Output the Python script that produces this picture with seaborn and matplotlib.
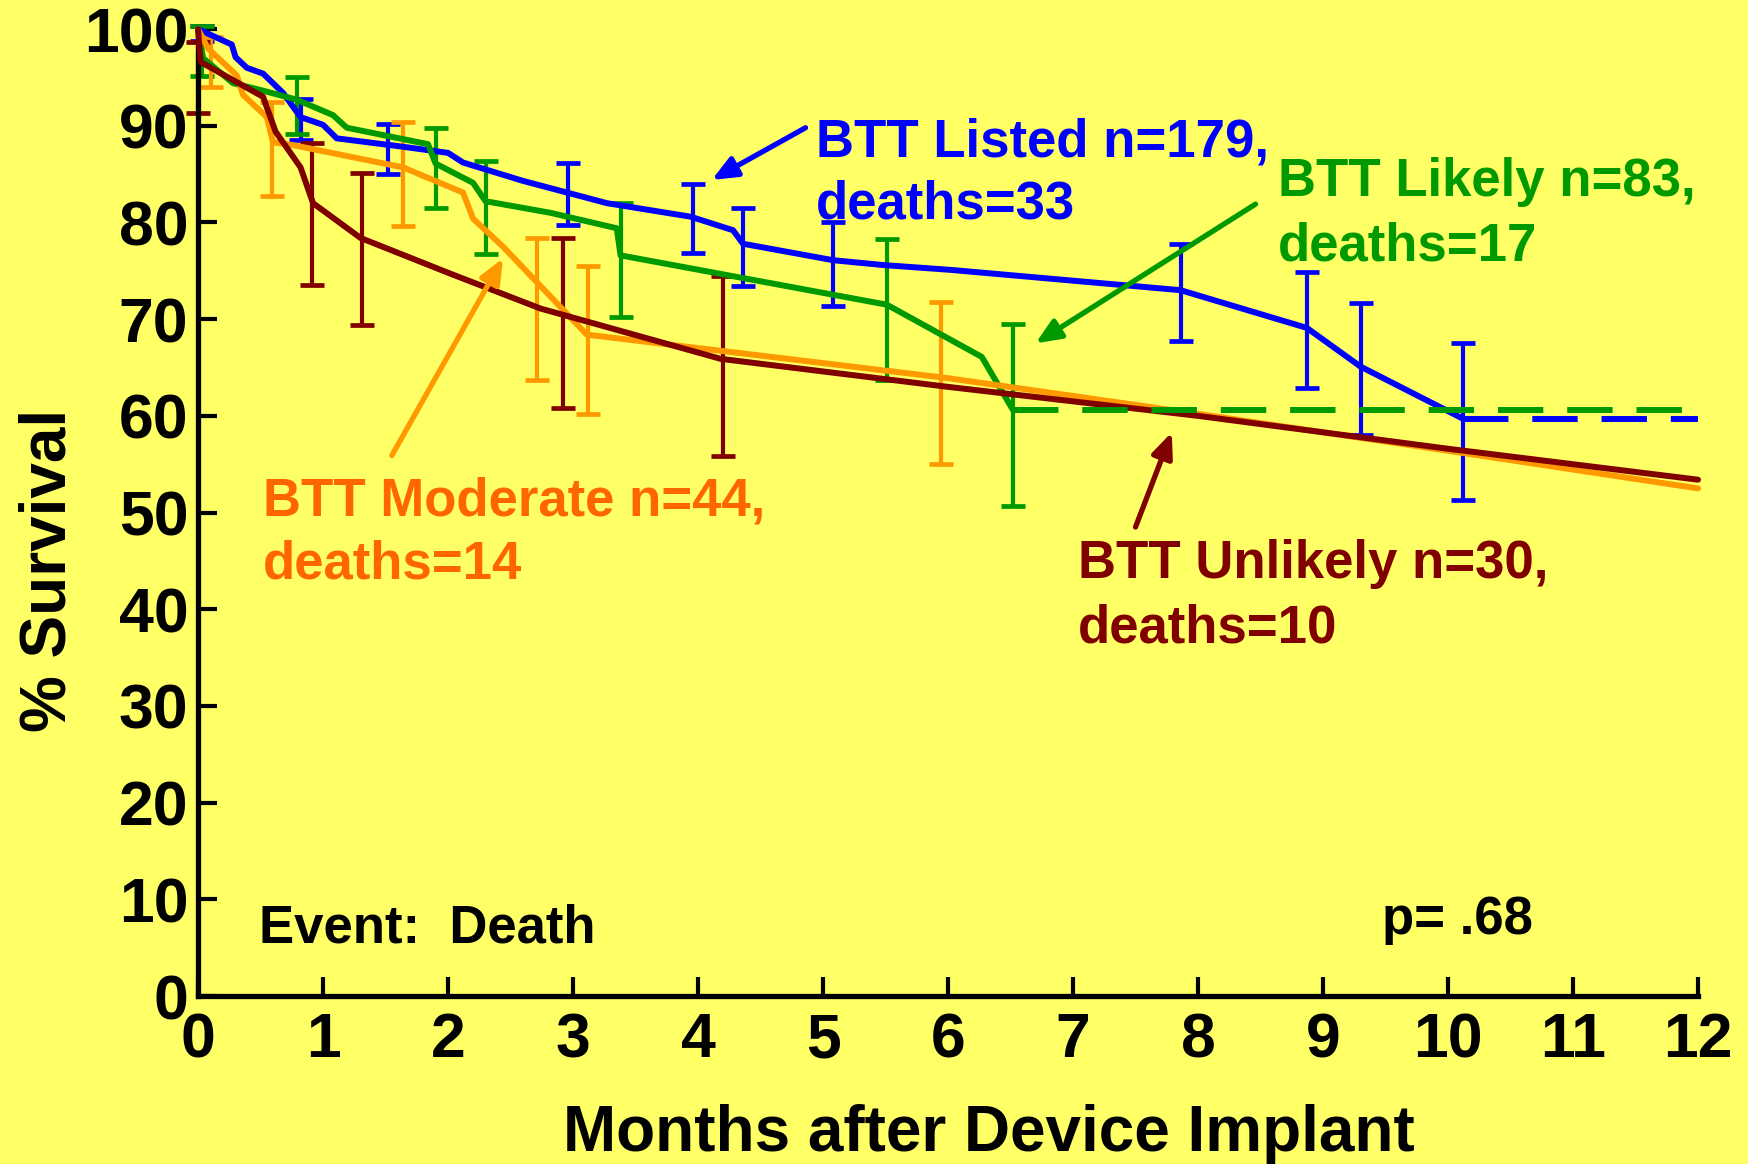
import numpy as np
import pandas as pd
import seaborn as sns
import matplotlib
matplotlib.use("Agg")
import matplotlib.pyplot as plt

# survival curves (months, % survival)
blue_x = [0, 0.27, 0.30, 0.39, 0.52, 0.68, 0.82, 1.0, 1.11, 1.6, 2.0, 2.12, 2.6, 2.95, 3.27, 3.94, 4.28, 4.36, 5.08, 5.48, 6.02, 7.86, 8.87, 9.30, 10.12]
blue_y = [100, 98.4, 97.1, 96.0, 95.4, 93.4, 90.9, 90.1, 88.7, 87.9, 87.2, 86.2, 84.3, 83.1, 82.0, 80.6, 79.2, 77.8, 76.1, 75.6, 75.1, 73.0, 69.1, 65.1, 59.7]
blue_tail_x = [10.12, 12]
blue_tail_y = [59.7, 59.7]

green_x = [0, 0.04, 0.28, 0.5, 0.79, 1.08, 1.19, 1.84, 1.9, 2.2, 2.3, 2.82, 3.35, 3.38, 5.51, 6.27, 6.52]
green_y = [100, 97.0, 94.4, 93.7, 92.7, 91.1, 89.8, 88.1, 86.1, 84.1, 82.2, 81.0, 79.4, 76.6, 71.5, 66.1, 60.6]
green_tail_x = [6.52, 12]
green_tail_y = [60.6, 60.6]

orange_x = [0, 0.08, 0.31, 0.36, 0.55, 0.6, 0.76, 1.64, 2.12, 2.2, 2.44, 3.11, 6.0, 7.9, 10.1, 12]
orange_y = [100, 98.0, 95.2, 93.2, 90.9, 88.3, 88.0, 85.7, 83.1, 80.4, 77.5, 68.4, 63.9, 60.4, 56.2, 52.5]

darkred_x = [0, 0.02, 0.52, 0.62, 0.82, 0.92, 1.3, 2.02, 2.74, 4.18, 6.0, 8.0, 10.0, 12]
darkred_y = [100, 96.6, 93.0, 89.4, 85.7, 82.0, 78.4, 74.7, 71.1, 65.9, 63.0, 60.0, 56.6, 53.4]

# confidence bars (month, low, high)
blue_err_x = [0.03, 0.82, 1.52, 2.96, 3.96, 4.36, 5.08, 7.86, 8.87, 9.30, 10.12]
blue_err_lo = [98.8, 88.5, 85.0, 79.7, 76.8, 73.4, 71.4, 67.7, 62.9, 58.0, 51.3]
blue_err_hi = [100.3, 92.8, 90.2, 86.2, 84.0, 81.5, 80.1, 77.8, 74.9, 71.7, 67.5]

green_err_x = [0.03, 0.79, 1.9, 2.3, 3.38, 5.51, 6.52]
green_err_lo = [95.1, 89.1, 81.5, 76.7, 70.2, 63.7, 50.7]
green_err_hi = [100.3, 95.0, 89.8, 86.4, 82.0, 78.3, 69.5]

orange_err_x = [0.1, 0.59, 1.64, 2.71, 3.12, 5.94]
orange_err_lo = [94.0, 82.7, 79.6, 63.7, 60.2, 55.0]
orange_err_hi = [99.2, 92.5, 90.4, 78.4, 75.5, 71.8]

darkred_err_x = [0.0, 0.91, 1.31, 2.92, 4.2]
darkred_err_lo = [91.3, 73.5, 69.4, 60.8, 55.8]
darkred_err_hi = [98.7, 88.2, 85.1, 78.4, 74.5]

x_ticks = list(range(0, 13))
y_ticks = list(range(0, 101, 10))

BG = "#FFFF66"
BLUE = "#0000FF"
GREEN = "#009900"
ORANGE = "#FF9900"
ORANGE_TXT = "#FF6600"
DARKRED = "#800000"

sns.set_style("ticks")
plt.rcParams["font.family"] = ["Liberation Sans", "DejaVu Sans"]
plt.rcParams["font.weight"] = "bold"
plt.rcParams["text.color"] = "black"
plt.rcParams["axes.labelcolor"] = "black"

fig = plt.figure(figsize=(17.48, 11.64), dpi=100, facecolor=BG)
ax = fig.add_axes([0.1133, 0.1443, 0.8581, 0.8307], facecolor=BG)

LW = 4.3

def err(xs, lo, hi, color):
    lo = np.array(lo)
    hi = np.array(hi)
    ax.errorbar(xs, (lo + hi) / 2, yerr=(hi - lo) / 2, fmt="none", ecolor=color,
                elinewidth=3.0, capsize=8.3, capthick=3.4, clip_on=False, zorder=2)

err(blue_err_x, blue_err_lo, blue_err_hi, BLUE)
err(green_err_x, green_err_lo, green_err_hi, GREEN)
err(orange_err_x, orange_err_lo, orange_err_hi, ORANGE)
err(darkred_err_x, darkred_err_lo, darkred_err_hi, DARKRED)

curves = [
    (blue_x, blue_y, BLUE),
    (green_x, green_y, GREEN),
    (orange_x, orange_y, ORANGE),
    (darkred_x, darkred_y, DARKRED),
]
for xs, ys, c in curves:
    df = pd.DataFrame({"month": xs, "surv": ys})
    sns.lineplot(data=df, x="month", y="surv", color=c, estimator=None,
                 sort=False, ax=ax)
    ln = ax.lines[-1]
    ln.set_linewidth(LW)
    ln.set_clip_on(False)
    ln.set_zorder(3)

for xs, ys, c in [(green_tail_x, green_tail_y, GREEN), (blue_tail_x, blue_tail_y, BLUE)]:
    df = pd.DataFrame({"month": xs, "surv": ys})
    sns.lineplot(data=df, x="month", y="surv", color=c, estimator=None,
                 sort=False, ax=ax)
    ln = ax.lines[-1]
    ln.set_linewidth(LW)
    ln.set_dashes((7.6, 4.0))
    ln.set_zorder(3)

ax.set_xlim(0, 12)
ax.set_ylim(0, 100)
ax.set_xticks(x_ticks)
ax.set_yticks(y_ticks)
for s in ["top", "right"]:
    ax.spines[s].set_visible(False)
for s in ["left", "bottom"]:
    ax.spines[s].set_linewidth(3.8)
    ax.spines[s].set_color("black")
ax.tick_params(axis="both", direction="in", length=14, width=3, colors="black",
               labelsize=45)
ax.tick_params(axis="x", pad=11)
ax.tick_params(axis="y", pad=7)
for lab in ax.get_xticklabels() + ax.get_yticklabels():
    lab.set_fontweight("bold")

ax.set_xlabel("Months after Device Implant", fontsize=46, fontweight="bold", color="black")
ax.set_ylabel("% Survival", fontsize=46, fontweight="bold", color="black")
ax.xaxis.set_label_coords(0.527, -0.112)
ax.yaxis.set_label_coords(-0.080, 0.44)

TS = 38
def label(x, y, txt, color):
    ax.text(x, y, txt, color=color, fontsize=TS, fontweight="bold",
            ha="left", va="baseline")

label(4.94, 86.8, "BTT Listed n=179,", BLUE)
label(4.94, 80.4, "deaths=33", BLUE)
label(8.64, 82.7, "BTT Likely n=83,", GREEN)
label(8.64, 76.1, "deaths=17", GREEN)
label(0.52, 49.7, "BTT Moderate n=44,", ORANGE_TXT)
label(0.52, 43.2, "deaths=14", ORANGE_TXT)
label(7.04, 43.2, "BTT Unlikely n=30,", DARKRED)
label(7.04, 36.6, "deaths=10", DARKRED)
label(0.49, 5.5, "Event:  Death", "black")
label(9.47, 6.4, "p= .68", "black")

def arrow(tail, tip, color):
    ax.annotate("", xy=tip, xytext=tail,
                arrowprops=dict(arrowstyle="-|>,head_length=0.75,head_width=0.32",
                                mutation_scale=20, color=color, lw=3.8,
                                shrinkA=0, shrinkB=0))

arrow((4.86, 89.8), (4.11, 84.4), BLUE)
arrow((8.46, 81.9), (6.70, 67.5), GREEN)
arrow((1.55, 55.9), (2.44, 76.3), ORANGE)
arrow((7.5, 48.5), (7.79, 58.3), DARKRED)

fig.savefig("out.png", dpi=100, facecolor=BG)
